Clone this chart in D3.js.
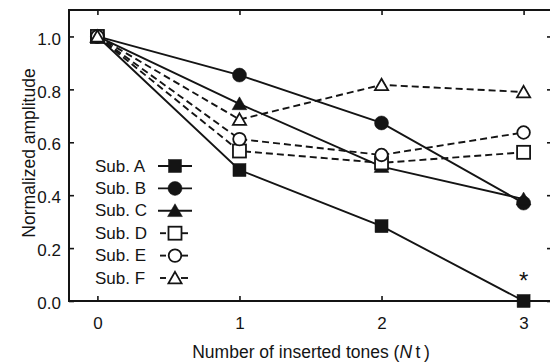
<!DOCTYPE html>
<html>
<head>
<meta charset="utf-8">
<script src="https://cdn.jsdelivr.net/npm/d3@7"></script>
<style>
  html, body { margin: 0; padding: 0; background: #fff; }
  svg { display: block; font-family: "Liberation Sans", Arial, Helvetica, sans-serif; }
</style>
</head>
<body>
<div id="chart"></div>
<script>
// x categories (number of inserted tones)
const tones = [0, 1, 2, 3];
const subjects = ['Sub. A', 'Sub. B', 'Sub. C', 'Sub. D', 'Sub. E', 'Sub. F'];
const subA = [1.0, 0.495, 0.283, 0.0];
const subB = [1.0, 0.854, 0.673, 0.37];
const subC = [1.0, 0.745, 0.508, 0.385];
const subD = [1.0, 0.567, 0.522, 0.562];
const subE = [1.0, 0.612, 0.552, 0.637];
const subF = [1.0, 0.686, 0.817, 0.79];
const yTicks = [0.0, 0.2, 0.4, 0.6, 0.8, 1.0];

const W = 550, H = 362;
const ink = '#141414';
const x = d3.scaleLinear().domain([-0.2, 3.2]).range([69, 552]);
const y = d3.scaleLinear().domain([0, 1.1]).range([301, 10]);

const series = [
  { name: subjects[0], values: subA, shape: 'square', filled: true, dashed: false },
  { name: subjects[1], values: subB, shape: 'circle', filled: true, dashed: false },
  { name: subjects[2], values: subC, shape: 'triangle', filled: true, dashed: false },
  { name: subjects[3], values: subD, shape: 'square', filled: false, dashed: true },
  { name: subjects[4], values: subE, shape: 'circle', filled: false, dashed: true },
  { name: subjects[5], values: subF, shape: 'triangle', filled: false, dashed: true },
];

const svg = d3.select('#chart').append('svg').attr('width', W).attr('height', H);

// axes with inward ticks
const axLeft = svg.append('g').attr('transform', `translate(${x.range()[0]},0)`)
  .call(d3.axisLeft(y).tickValues(yTicks).tickSize(-5).tickPadding(8).tickFormat(d3.format('.1f')));
const axRight = svg.append('g').attr('transform', `translate(${x.range()[1]},0)`)
  .call(d3.axisRight(y).tickValues(yTicks).tickSize(-5).tickFormat(''));
const axBottom = svg.append('g').attr('transform', `translate(0,${y.range()[0]})`)
  .call(d3.axisBottom(x).tickValues(tones).tickSize(-5).tickPadding(16).tickFormat(d3.format('d')));
const axTop = svg.append('g').attr('transform', `translate(0,${y.range()[1]})`)
  .call(d3.axisTop(x).tickValues(tones).tickSize(-5).tickFormat(''));

[axLeft, axRight, axBottom, axTop].forEach(g => {
  g.select('.domain').remove();
  g.selectAll('line').attr('stroke', ink).attr('stroke-width', 1.6);
  g.selectAll('text').attr('fill', ink).style('font-size', '17px');
});
axLeft.selectAll('text').attr('dy', '0.45em');

// frame
svg.append('rect')
  .attr('x', x.range()[0]).attr('y', y.range()[1])
  .attr('width', x.range()[1] - x.range()[0]).attr('height', y.range()[0] - y.range()[1])
  .attr('fill', 'none').attr('stroke', ink).attr('stroke-width', 2);

// axis titles
svg.append('text').attr('x', 311).attr('y', 352).attr('text-anchor', 'middle')
  .attr('dominant-baseline', 'central').attr('fill', ink).style('font-size', '17.5px')
  .call(t => {
    t.append('tspan').text('Number of inserted tones (');
    t.append('tspan').style('font-style', 'italic').text('N');
    t.append('tspan').text('\u2009t\u2009)');
  });
svg.append('text').attr('transform', 'translate(29,153) rotate(-90)').attr('text-anchor', 'middle')
  .attr('dominant-baseline', 'central').attr('fill', ink).style('font-size', '17.5px')
  .text('Normalized amplitude');

function marker(g, s, cx, cy) {
  const fill = s.filled ? ink : '#fff';
  if (s.shape === 'square') {
    g.append('rect').attr('x', cx - 6.5).attr('y', cy - 6.5).attr('width', 13).attr('height', 13)
      .attr('fill', fill).attr('stroke', ink).attr('stroke-width', s.filled ? 0.5 : 1.8);
  } else if (s.shape === 'circle') {
    g.append('circle').attr('cx', cx).attr('cy', cy).attr('r', s.filled ? 7 : 6.3)
      .attr('fill', fill).attr('stroke', ink).attr('stroke-width', s.filled ? 0.5 : 1.8);
  } else {
    const sym = d3.symbol().type(d3.symbolTriangle).size(s.filled ? 95 : 75);
    g.append('path').attr('d', sym()).attr('transform', `translate(${cx},${cy + 1.5})`)
      .attr('fill', fill).attr('stroke', ink).attr('stroke-width', s.filled ? 0.5 : 1.8)
      .attr('stroke-linejoin', 'miter');
  }
}

const line = d3.line().x((d, i) => x(tones[i])).y(d => y(d));
const plot = svg.append('g');
series.forEach(s => {
  plot.append('path').datum(s.values).attr('d', line)
    .attr('fill', 'none').attr('stroke', ink).attr('stroke-width', 1.9)
    .attr('stroke-dasharray', s.dashed ? '7,4' : null);
});
series.forEach(s => {
  const g = plot.append('g');
  s.values.forEach((v, i) => marker(g, s, x(tones[i]), y(v)));
});

// significance mark
svg.append('text').attr('x', x(3)).attr('y', y(subA[3]) - 12).attr('text-anchor', 'middle')
  .attr('fill', ink).style('font-size', '24px').text('*');

// legend
const lg = svg.append('g');
series.forEach((s, i) => {
  const cy = 166 + i * 22.4;
  lg.append('text').attr('x', 95).attr('y', cy).attr('dominant-baseline', 'central')
    .attr('fill', ink).style('font-size', '17px').text(s.name);
  if (s.dashed) {
    lg.append('line').attr('x1', 160).attr('x2', 166).attr('y1', cy).attr('y2', cy).attr('stroke', ink).attr('stroke-width', 1.9);
    lg.append('line').attr('x1', 181).attr('x2', 188).attr('y1', cy).attr('y2', cy).attr('stroke', ink).attr('stroke-width', 1.9);
  } else {
    lg.append('line').attr('x1', 158).attr('x2', 192).attr('y1', cy).attr('y2', cy).attr('stroke', ink).attr('stroke-width', 1.9);
  }
  marker(lg, s, 175, cy);
});
</script>
</body>
</html>
